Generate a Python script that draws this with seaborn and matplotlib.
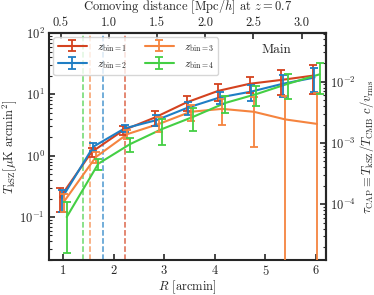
import numpy as np
import pandas as pd
import matplotlib
matplotlib.use("Agg")
import matplotlib.pyplot as plt
from matplotlib.lines import Line2D
import seaborn as sns

# ---------------- data ----------------
R_base = [1.0, 1.625, 2.25, 2.875, 3.5, 4.125, 4.75, 5.375, 6.0]
bins = ["1", "2", "3", "4"]
offsets = [-0.06, -0.03, 0.02, 0.07]

T_z1 = [0.21, 1.15, 2.6, 4.2, 7.4, 11.4, 14.9, 17.2, 20.2]
E_z1 = [0.09, 0.2, 0.4, 1.1, 2.1, 3.5, 4.5, 7.5, 10.0]
T_z2 = [0.20, 1.4, 2.8, 3.8, 6.1, 8.9, 11.1, 14.9, 18.8]
E_z2 = [0.08, 0.22, 0.35, 0.8, 1.5, 2.0, 3.2, 5.7, 8.0]
T_z3 = [0.18, 0.95, 2.25, 3.3, 5.2, 5.8, 5.2, 3.9, 3.3]
E_z3 = [0.06, 0.2, 0.4, 0.9, 1.5, 2.6, 3.8, 5.4, 7.2]
T_z4 = [0.10, 0.74, 1.54, 2.7, 4.3, 7.2, 10.1, 14.9, 21.2]
E_z4 = [0.074, 0.15, 0.37, 1.2, 1.75, 2.3, 3.7, 6.5, 11.0]

R_cut = [2.22, 1.78, 1.53, 1.40]   # vertical dashed lines per bin

colors = ["#d4421f", "#1f7ec4", "#f5843f", "#44cf44"]

k_com = 0.525        # Mpc/h per arcmin at z=0.7
f_tau = 6.2e-4       # T_kSZ -> tau_CAP

# ---------------- style ----------------
sns.set_theme(style="ticks")
FS = 9
plt.rcParams.update({
    "font.family": "serif",
    "font.serif": ["cmr10"],
    "mathtext.fontset": "cm",
    "axes.formatter.use_mathtext": True,
    "axes.unicode_minus": False,
    "font.size": FS,
    "axes.linewidth": 1.5,
    "xtick.direction": "in",
    "ytick.direction": "in",
    "xtick.major.width": 1.2,
    "ytick.major.width": 1.2,
    "xtick.minor.width": 0.8,
    "ytick.minor.width": 0.8,
    "xtick.major.size": 4,
    "ytick.major.size": 4,
    "xtick.minor.size": 2,
    "ytick.minor.size": 2,
    "xtick.labelsize": FS,
    "ytick.labelsize": FS,
    "axes.labelsize": FS,
    "xtick.major.pad": 3,
    "ytick.major.pad": 3,
})

Ts = [T_z1, T_z2, T_z3, T_z4]
Es = [E_z1, E_z2, E_z3, E_z4]
rows = []
for b, off, T, E in zip(bins, offsets, Ts, Es):
    for r, t, e in zip(R_base, T, E):
        rows.append({"R": r + off, "T": t, "err": e, "bin": b})
df = pd.DataFrame(rows)

fig = plt.figure(figsize=(3.74, 2.95), dpi=100)
ax = fig.add_axes([0.131, 0.119, 0.741, 0.769])

for b, rc, c in zip(bins, R_cut, colors):
    ax.axvline(rc, color=c, ls="--", lw=1.1, alpha=0.8, zorder=1)

sns.lineplot(data=df, x="R", y="T", hue="bin", palette=colors,
             estimator=None, sort=False, legend=False, lw=1.5, ax=ax, zorder=3)

handles = []
for b, c in zip(bins, colors):
    d = df[df["bin"] == b]
    eb = ax.errorbar(d["R"], d["T"], yerr=d["err"], fmt="none", ecolor=c,
                     elinewidth=1.3, capsize=3, capthick=1.3, zorder=3)
    handles.append(eb)

labels = [r"$z_{\rm bin=%s}$" % b for b in bins]
leg_handles = [(Line2D([], [], color=c, lw=1.5), eb) for c, eb in zip(colors, handles)]
ax.legend(leg_handles, labels, ncol=2, loc="upper left",
          bbox_to_anchor=(0.0, 1.0), fontsize=8, frameon=True,
          handlelength=2.6, handletextpad=0.9, columnspacing=1.6,
          borderaxespad=0.4)

ax.text(0.82, 0.925, "Main", transform=ax.transAxes, ha="center", va="center",
        fontsize=9.5)

ax.set_yscale("log")
ax.set_xlim(0.72, 6.2)
ax.set_ylim(0.02, 100)
ax.set_xticks([1, 2, 3, 4, 5, 6])
ax.set_xlabel(r"$R$ [arcmin]", labelpad=0)
ax.set_ylabel(r"$T_{\rm kSZ} [\mu{\rm K~arcmin}^2]$", labelpad=0)
ax.tick_params(which="both", top=False, right=False)
ax.tick_params(axis="x", which="minor", bottom=False)

secx = ax.secondary_xaxis("top", functions=(lambda r: r * k_com, lambda d: d / k_com))
secx.set_xticks([0.5, 1.0, 1.5, 2.0, 2.5, 3.0])
secx.set_xticklabels(["0.5", "1.0", "1.5", "2.0", "2.5", "3.0"])
secx.tick_params(direction="in", pad=3)
fig.text(0.5 * (0.131 + 0.872), 1 - 6.5 / 295,
         r"Comoving distance [Mpc/$h$] at $z=0.7$",
         ha="center", va="center", fontsize=FS)

secy = ax.secondary_yaxis("right", functions=(lambda t: t * f_tau, lambda s: s / f_tau))
secy.set_ylabel(r"$\tau_{\rm CAP} \equiv T_{\rm kSZ}/T_{\rm CMB}~c/v_{\rm rms}$", labelpad=1)
secy.tick_params(which="both", direction="in")

fig.savefig("out.png", dpi=100)
